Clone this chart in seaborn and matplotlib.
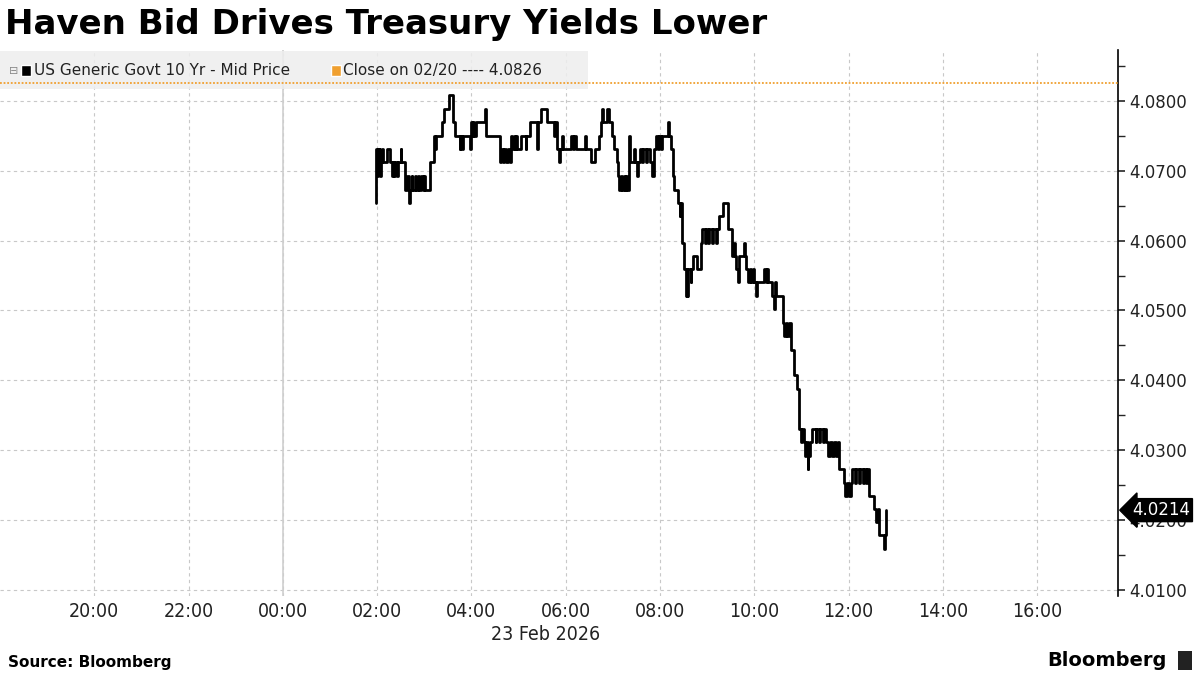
import numpy as np
import pandas as pd
import seaborn as sns
import matplotlib.pyplot as plt
import matplotlib.dates as mdates
from matplotlib.ticker import MultipleLocator, FormatStrFormatter, FixedLocator
from matplotlib.patches import Rectangle

# US Generic Govt 10 Yr - Mid Price, 23 Feb 2026
times = [
    "01:58", "01:59", "02:00", "02:01", "02:02", "02:03", "02:04", "02:05", "02:06", "02:08",
    "02:12", "02:17", "02:19", "02:20", "02:22", "02:23", "02:25", "02:26", "02:30", "02:31",
    "02:35", "02:36", "02:38", "02:40", "02:41", "02:42", "02:44", "02:45", "02:48", "02:49",
    "02:52", "02:53", "02:56", "02:58", "03:00", "03:01", "03:07", "03:12", "03:13", "03:14",
    "03:15", "03:22", "03:25", "03:31", "03:36", "03:39", "03:45", "03:46", "03:48", "03:49",
    "03:58", "03:59", "04:00", "04:01", "04:02", "04:03", "04:06", "04:17", "04:18", "04:19",
    "04:36", "04:37", "04:38", "04:40", "04:42", "04:44", "04:46", "04:49", "04:51", "04:52",
    "04:54", "04:55", "04:57", "04:58", "05:03", "05:09", "05:10", "05:14", "05:24", "05:25",
    "05:29", "05:36", "05:45", "05:46", "05:49", "05:52", "05:53", "05:55", "05:56", "06:07",
    "06:09", "06:10", "06:13", "06:25", "06:26", "06:32", "06:37", "06:43", "06:45", "06:46",
    "06:48", "06:52", "06:55", "06:59", "07:02", "07:05", "07:07", "07:08", "07:10", "07:12",
    "07:14", "07:15", "07:17", "07:18", "07:21", "07:22", "07:27", "07:28", "07:31", "07:32",
    "07:34", "07:37", "07:39", "07:42", "07:44", "07:47", "07:50", "07:53", "07:55", "07:57",
    "07:59", "08:01", "08:03", "08:10", "08:11", "08:14", "08:16", "08:18", "08:23", "08:25",
    "08:26", "08:28", "08:31", "08:33", "08:34", "08:35", "08:36", "08:39", "08:40", "08:42",
    "08:47", "08:52", "08:54", "08:57", "08:58", "09:01", "09:03", "09:06", "09:08", "09:11",
    "09:13", "09:15", "09:20", "09:26", "09:32", "09:34", "09:35", "09:37", "09:39", "09:40",
    "09:41", "09:47", "09:48", "09:49", "09:52", "09:54", "09:56", "09:58", "10:00", "10:02",
    "10:03", "10:13", "10:15", "10:16", "10:18", "10:22", "10:25", "10:26", "10:28", "10:36",
    "10:38", "10:40", "10:42", "10:44", "10:47", "10:51", "10:55", "10:57", "10:59", "11:01",
    "11:03", "11:04", "11:06", "11:08", "11:09", "11:11", "11:14", "11:18", "11:19", "11:23",
    "11:24", "11:28", "11:29", "11:31", "11:34", "11:36", "11:39", "11:41", "11:44", "11:46",
    "11:48", "11:54", "11:56", "11:58", "12:00", "12:03", "12:05", "12:08", "12:10", "12:13",
    "12:15", "12:18", "12:20", "12:22", "12:24", "12:26", "12:33", "12:35", "12:37", "12:39",
    "12:45", "12:46", "12:48",
]
yields = [
    4.0654, 4.0731, 4.0693, 4.0731, 4.0712, 4.0731, 4.0693, 4.0712, 4.0731, 4.0712,
    4.0731, 4.0712, 4.0693, 4.0712, 4.0693, 4.0712, 4.0693, 4.0712, 4.0731, 4.0712,
    4.0693, 4.0673, 4.0693, 4.0673, 4.0654, 4.0673, 4.0693, 4.0673, 4.0693, 4.0673,
    4.0693, 4.0673, 4.0693, 4.0673, 4.0693, 4.0673, 4.0712, 4.0731, 4.0750, 4.0731,
    4.0750, 4.0770, 4.0789, 4.0808, 4.0770, 4.0750, 4.0731, 4.0750, 4.0731, 4.0750,
    4.0731, 4.0750, 4.0770, 4.0750, 4.0770, 4.0750, 4.0770, 4.0789, 4.0770, 4.0750,
    4.0731, 4.0712, 4.0731, 4.0712, 4.0731, 4.0712, 4.0731, 4.0712, 4.0750, 4.0731,
    4.0750, 4.0731, 4.0750, 4.0731, 4.0750, 4.0731, 4.0750, 4.0770, 4.0731, 4.0770,
    4.0789, 4.0770, 4.0750, 4.0770, 4.0731, 4.0712, 4.0731, 4.0750, 4.0731, 4.0750,
    4.0731, 4.0750, 4.0731, 4.0750, 4.0731, 4.0712, 4.0731, 4.0750, 4.0770, 4.0789,
    4.0770, 4.0789, 4.0770, 4.0750, 4.0731, 4.0712, 4.0693, 4.0673, 4.0693, 4.0673,
    4.0693, 4.0673, 4.0693, 4.0673, 4.0750, 4.0712, 4.0731, 4.0712, 4.0693, 4.0712,
    4.0731, 4.0712, 4.0731, 4.0712, 4.0731, 4.0712, 4.0693, 4.0731, 4.0750, 4.0731,
    4.0750, 4.0731, 4.0750, 4.0770, 4.0750, 4.0731, 4.0693, 4.0673, 4.0654, 4.0635,
    4.0654, 4.0597, 4.0560, 4.0521, 4.0560, 4.0521, 4.0560, 4.0541, 4.0560, 4.0578,
    4.0560, 4.0597, 4.0617, 4.0597, 4.0617, 4.0597, 4.0617, 4.0597, 4.0617, 4.0597,
    4.0617, 4.0635, 4.0654, 4.0617, 4.0578, 4.0597, 4.0578, 4.0560, 4.0541, 4.0560,
    4.0578, 4.0597, 4.0578, 4.0560, 4.0541, 4.0560, 4.0541, 4.0560, 4.0541, 4.0521,
    4.0541, 4.0560, 4.0541, 4.0560, 4.0541, 4.0521, 4.0502, 4.0541, 4.0521, 4.0482,
    4.0463, 4.0482, 4.0463, 4.0482, 4.0444, 4.0407, 4.0387, 4.0330, 4.0311, 4.0330,
    4.0311, 4.0292, 4.0311, 4.0273, 4.0292, 4.0311, 4.0330, 4.0311, 4.0330, 4.0311,
    4.0330, 4.0311, 4.0330, 4.0311, 4.0292, 4.0311, 4.0292, 4.0311, 4.0292, 4.0311,
    4.0273, 4.0253, 4.0234, 4.0253, 4.0234, 4.0253, 4.0273, 4.0253, 4.0273, 4.0253,
    4.0273, 4.0253, 4.0273, 4.0253, 4.0273, 4.0234, 4.0216, 4.0197, 4.0216, 4.0178,
    4.0159, 4.0178, 4.0214,
]
prev_close = 4.0826
last_value = yields[-1]
tick_times = ["2026-02-22 20:00", "2026-02-22 22:00", "2026-02-23 00:00",
              "2026-02-23 02:00", "2026-02-23 04:00", "2026-02-23 06:00",
              "2026-02-23 08:00", "2026-02-23 10:00", "2026-02-23 12:00",
              "2026-02-23 14:00", "2026-02-23 16:00"]

df = pd.DataFrame({
    "time": pd.to_datetime(["2026-02-23 " + t for t in times]),
    "yield": yields,
})

sns.set_style("white")
plt.rcParams["font.family"] = ["DejaVu Sans"]

fig = plt.figure(figsize=(12, 6.75), dpi=100)
ax = fig.add_axes([0.0, 0.117, 0.9317, 0.809])

sns.lineplot(data=df, x="time", y="yield", ax=ax, color="black", lw=2,
             drawstyle="steps-post", estimator=None, sort=False, zorder=5)

x0 = pd.Timestamp("2026-02-22 18:00")
x1 = pd.Timestamp("2026-02-23 17:43")
ax.set_xlim(x0, x1)
ax.set_ylim(4.0091, 4.0873)

# previous close reference
ax.axhline(prev_close, color="#f0a030", lw=1.3, ls=(0, (1, 1)), zorder=4)
# day separator
ax.axvline(pd.Timestamp("2026-02-23 00:00"), color="#cfcfcf", lw=1.2, zorder=1)

# axes / ticks
ax.xaxis.set_major_locator(FixedLocator(mdates.date2num(pd.to_datetime(tick_times))))
ax.xaxis.set_major_formatter(mdates.DateFormatter("%H:%M"))
ax.yaxis.tick_right()
ax.yaxis.set_major_locator(MultipleLocator(0.01))
ax.yaxis.set_minor_locator(MultipleLocator(0.005))
ax.yaxis.set_major_formatter(FormatStrFormatter("%.4f"))
ax.tick_params(axis="x", length=0, pad=4, labelsize=14, labelcolor="#222222")
ax.tick_params(axis="y", which="major", length=5, width=1.2, labelsize=12, pad=3,
               labelcolor="#222222")
ax.tick_params(axis="y", which="minor", length=5, width=1.0)
ax.set_xlabel("")
ax.set_ylabel("")
for lab in ax.get_xticklabels():
    lab.set_fontstretch("condensed")

ax.grid(True, which="major", color="#c8c8c8", ls=(0, (3, 3)), lw=0.8)
for s in ["left", "top", "bottom"]:
    ax.spines[s].set_visible(False)
ax.spines["right"].set_color("black")
ax.spines["right"].set_linewidth(1.2)

# date label under the axis
ax.text(pd.Timestamp("2026-02-23 05:35"), -0.07, "23 Feb 2026",
        transform=ax.get_xaxis_transform(), ha="center", va="center",
        fontsize=14, color="#222222", fontstretch="condensed")

# legend band
ax.add_patch(Rectangle((0, 0.928), 0.526, 0.07, transform=ax.transAxes,
                       facecolor="#eeeeee", alpha=0.85, edgecolor="none", zorder=3))
ax.text(0.008, 0.962, "\u229f", transform=ax.transAxes, fontsize=8, color="#888888",
        va="center", zorder=6)
ax.add_patch(Rectangle((0.019, 0.953), 0.009, 0.019, transform=ax.transAxes,
                       facecolor="black", zorder=6))
ax.text(0.030, 0.962, "US Generic Govt 10 Yr - Mid Price", transform=ax.transAxes,
        fontsize=11, va="center", color="#222222", zorder=6)
ax.add_patch(Rectangle((0.296, 0.953), 0.009, 0.019, transform=ax.transAxes,
                       facecolor="#f0a030", zorder=6))
ax.text(0.307, 0.962, "Close on 02/20 ---- 4.0826", transform=ax.transAxes,
        fontsize=11, va="center", color="#222222", zorder=6)

# last value tag
ax.annotate(f"{last_value:.4f}", xy=(1.0, last_value),
            xycoords=ax.get_yaxis_transform(), xytext=(10, 0), textcoords="offset points",
            ha="left", va="center", fontsize=12, color="white", zorder=10,
            bbox=dict(boxstyle="larrow,pad=0.15", fc="black", ec="black"),
            annotation_clip=False)

# title and footer
fig.text(0.004, 0.963, "Haven Bid Drives Treasury Yields Lower", fontsize=24.5,
         fontweight="bold", va="center", ha="left", color="black")
fig.text(0.007, 0.019, "Source: Bloomberg", fontsize=11, fontweight="bold",
         va="center", ha="left", color="black")
fig.text(0.972, 0.022, "Bloomberg", fontsize=14, fontweight="bold",
         va="center", ha="right", color="black")
fig.patches.append(Rectangle((0.982, 0.008), 0.011, 0.028, transform=fig.transFigure,
                             facecolor="#222222", edgecolor="none"))

fig.savefig("out.png", dpi=100)
